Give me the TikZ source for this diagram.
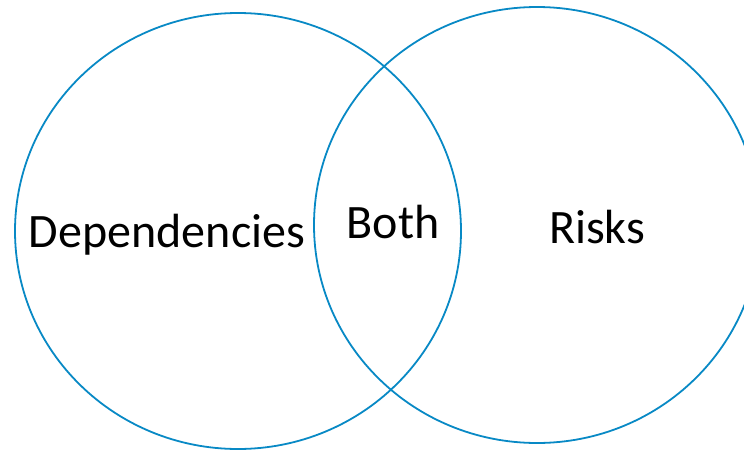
\documentclass[tikz,border=0pt]{standalone}
\usepackage{fontspec}
\setmainfont{Carlito}
\usetikzlibrary{shapes.geometric}
\definecolor{VennBlue}{RGB}{8,137,197}
\colorlet{ColourRing}{VennBlue}
\tikzset{
  venn style/.style={
    x=1pt, y=-1pt,
  },
  venn set/.style={
    draw=ColourRing,
    line width=1.8pt,
    ellipse,
    inner sep=0pt,
    minimum width=446pt,
    minimum height=436pt,
  },
  venn label/.style={
    font=\fontsize{48}{54}\selectfont,
    inner sep=0pt,
    anchor=base,
  },
}

\begin{document}
\begin{tikzpicture}[venn style]
  \clip (0,0) rectangle (744,450);
  \node[venn set] (deps) at (238,231) {};
  \node[venn set] (risks) at (537,225) {};
  \node[venn label] (depsl) at (167,247) {Dependencies};
  \node[venn label] (both) at (393,238) {Both};
  \node[venn label] (risksl) at (597,243) {Risks};
\end{tikzpicture}
\end{document}
